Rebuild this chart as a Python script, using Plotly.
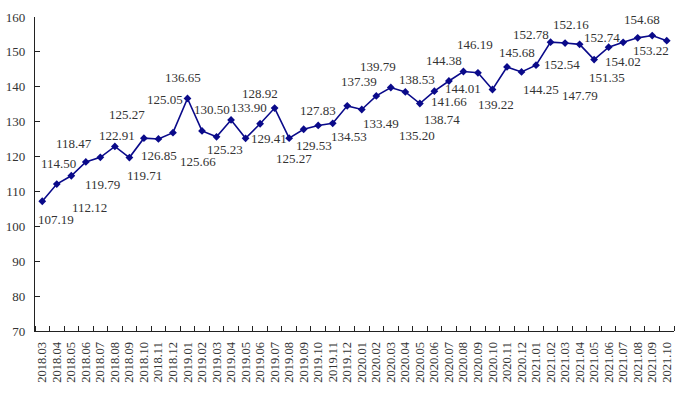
import plotly.graph_objects as go

months = ["2018.03", "2018.04", "2018.05", "2018.06", "2018.07", "2018.08", "2018.09", "2018.10",
          "2018.11", "2018.12", "2019.01", "2019.02", "2019.03", "2019.04", "2019.05", "2019.06",
          "2019.07", "2019.08", "2019.09", "2019.10", "2019.11", "2019.12", "2020.01", "2020.02",
          "2020.03", "2020.04", "2020.05", "2020.06", "2020.07", "2020.08", "2020.09", "2020.10",
          "2020.11", "2020.12", "2021.01", "2021.02", "2021.03", "2021.04", "2021.05", "2021.06",
          "2021.07", "2021.08", "2021.09", "2021.10"]

values = [107.19, 112.12, 114.50, 118.47, 119.79, 122.91, 119.71, 125.27, 125.05, 126.85,
          136.65, 127.36, 125.66, 130.50, 125.23, 129.41, 133.90, 125.27, 127.83, 128.92,
          129.53, 134.53, 133.49, 137.39, 139.79, 138.53, 135.20, 138.74, 141.66, 144.38,
          144.01, 139.22, 145.68, 144.25, 146.19, 152.78, 152.54, 152.16, 147.79, 151.35,
          152.74, 154.02, 154.68, 153.22]

# label pixel offsets (dx right, dy down) relative to each point; None = label not shown
label_offsets = [(14, 18), (33, 23), (-13, -12), (-12, -18), (2, 27), (2, -11), (15, 18),
                 (-17, -24), (7, -39), (-14, 23), (-4, -21), None, (-19, 25), (-19, -10),
                 (-21, 11), (9, 15), (-26, -1), (5, 20), (14, -19), (-58, -32), (-19, 22),
                 (2, 31), (19, 14), (-17, -14), (-13, -21), (12, -12), (-3, 32), (8, 28),
                 (0, 21), (-19, -11), (-15, 16), (4, 15), (10, -14), (19, 18), (-61, -21),
                 (-20, -8), (-3, 21), (-9, -20), (-14, 36), (-2, 30), (-21, -5), (-15, 24),
                 (-10, -16), (-16, 10)]

LINE = "#0a0a8a"
FONT = "Liberation Serif, Times New Roman, serif"
TXT = "#333333"

idx = list(range(len(months)))

fig = go.Figure()
fig.add_trace(go.Scatter(
    x=idx, y=values, mode="lines+markers",
    line=dict(color=LINE, width=1.6),
    marker=dict(symbol="diamond", size=6, color=LINE),
    customdata=months, hovertemplate="%{customdata}: %{y:.2f}<extra></extra>",
    showlegend=False,
))

for i, v, off in zip(idx, values, label_offsets):
    if off is None:
        continue
    dx, dy = off
    fig.add_annotation(x=i, y=v, xref="x", yref="y", text=f"{v:.2f}", showarrow=False,
                       xshift=dx, yshift=-dy, xanchor="center", yanchor="middle",
                       font=dict(family=FONT, size=13, color=TXT))

fig.update_layout(
    width=696, height=394,
    margin=dict(l=35, r=22, t=17, b=63),
    paper_bgcolor="white", plot_bgcolor="white",
    font=dict(family=FONT, size=13, color=TXT),
)
fig.update_xaxes(
    range=[-0.5, len(months) - 0.5],
    tickmode="array", tickvals=idx, ticktext=months,
    showline=True, linecolor="#222222", linewidth=1.2,
    ticks="", showgrid=False, zeroline=False, automargin=False,
    tickangle=-90, ticklabelstandoff=5,
    tickfont=dict(family=FONT, size=12.5, color=TXT),
    minor=dict(tickmode="array", tickvals=[i - 0.5 for i in idx] + [len(months) - 0.5],
               ticks="inside", ticklen=5, tickcolor="#222222", showgrid=False),
)
fig.update_yaxes(
    range=[70, 160], dtick=10, tick0=70,
    showline=True, linecolor="#222222", linewidth=1.2,
    ticks="inside", ticklen=5, tickcolor="#222222",
    showgrid=False, zeroline=False, automargin=False,
    ticklabelstandoff=6,
    tickfont=dict(family=FONT, size=13, color=TXT),
)

fig.write_html("out.html", config={"displayModeBar": False},
               post_script="document.body.style.margin='0px';document.body.style.padding='0px';")
